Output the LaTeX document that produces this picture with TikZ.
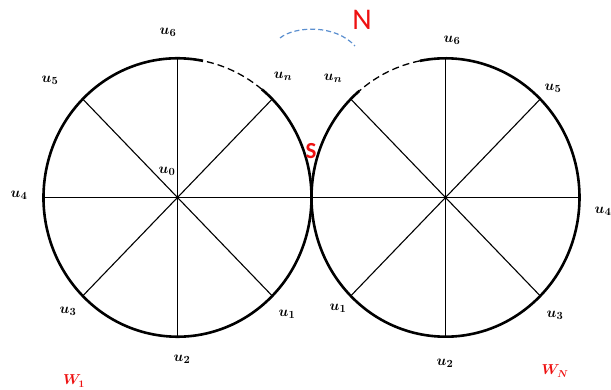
\documentclass[tikz,border=0pt]{standalone}
\usepackage{fontspec}
\usepackage{amsmath}
\newfontfamily\carl{Carlito}
\usetikzlibrary{calc}
\definecolor{redlab}{HTML}{EE1111}
\definecolor{bluedash}{HTML}{5B8FCF}
\tikzset{
  rim/.style={line width=2.6pt},
  rimdash/.style={line width=1.3pt, dash pattern=on 7pt off 4pt},
  spoke/.style={line width=1.1pt},
  diam/.style={line width=1.6pt},
  lab/.style={inner sep=0pt, font=\fontsize{15}{17}\selectfont\boldmath},
  wlab/.style={inner sep=0pt, text=redlab, font=\fontsize{14}{16}\selectfont\boldmath},
}
\begin{document}
\begin{tikzpicture}[x=1pt,y=1pt]
\useasboundingbox (0,0) rectangle (611,390);
\def\rx{134}
\def\ry{139.2}
\coordinate (L) at (177.5,192.5);
\coordinate (R) at (445.5,192.5);
\foreach \a in {0,45,90,135,180,225,270,315}{
  \coordinate (L\a) at ($(L)+({\rx*cos(\a)},{\ry*sin(\a)})$);
  \coordinate (R\a) at ($(R)+({\rx*cos(\a)},{\ry*sin(\a)})$);
}
\coordinate (Ls) at ($(L)+({\rx*cos(79)},{\ry*sin(79)})$);
\coordinate (Le) at ($(L)+({\rx*cos(51)},{\ry*sin(51)})$);
\coordinate (Rs) at ($(R)+({\rx*cos(101)},{\ry*sin(101)})$);
\coordinate (Re) at ($(R)+({\rx*cos(130)},{\ry*sin(130)})$);
% spokes left
\draw[diam] (L180) -- (L0);
\draw[spoke] (L90) -- (L270);
\draw[spoke] (L45) -- (L225);
\draw[spoke] (L135) -- (L315);
% spokes right
\draw[diam] (R180) -- (R0);
\draw[spoke] (R90) -- (R270);
\draw[spoke] (R45) -- (R225);
\draw[spoke] (R135) -- (R315);
\fill (L) circle (1.3);
\fill (R) circle (1.3);
% rims
\draw[rim] (Ls) arc[start angle=79, end angle=411, x radius=\rx, y radius=\ry];
\draw[rimdash] (Le) arc[start angle=51, end angle=79, x radius=\rx, y radius=\ry];
\draw[rim] (Re) arc[start angle=130, end angle=461, x radius=\rx, y radius=\ry];
\draw[rimdash] (Rs) arc[start angle=101, end angle=130, x radius=\rx, y radius=\ry];
% blue dashed arc
\coordinate (ba) at (280,352);
\coordinate (bb) at (355,344);
\draw[bluedash, line width=1.2pt, dash pattern=on 5pt off 3pt] (ba) .. controls (295,364) and (335,366) .. (bb);
% labels left
\node[lab] (l6) at (168,358) {$u_6$};
\node[lab] (l5) at (50,310) {$u_5$};
\node[lab] (ln) at (283,314) {$u_n$};
\node[lab] (l0) at (167,219) {$u_0$};
\node[lab] (l4) at (19,195) {$u_4$};
\node[lab] (l3) at (68,79) {$u_3$};
\node[lab] (l2) at (182,31) {$u_2$};
\node[lab] (l1) at (287,76) {$u_1$};
\node[wlab] (w1) at (74,9) {$W_1$};
% labels right
\node[lab] (r6) at (452,350) {$u_6$};
\node[lab] (r5) at (553,302) {$u_5$};
\node[lab] (rn) at (333,312) {$u_n$};
\node[lab] (r4) at (603,179) {$u_4$};
\node[lab] (r3) at (555,75) {$u_3$};
\node[lab] (r2) at (445,27) {$u_2$};
\node[lab] (r1) at (338,82) {$u_1$};
\node[wlab] (wn) at (555,19) {$W_N$};
% S and N
\node[inner sep=0pt, text=redlab, font=\carl\bfseries\fontsize{23}{26}\selectfont] (S) at (311,239) {S};
\node[inner sep=0pt, text=redlab, font=\carl\fontsize{30}{34}\selectfont] (N) at (362,370) {N};
\end{tikzpicture}
\end{document}
